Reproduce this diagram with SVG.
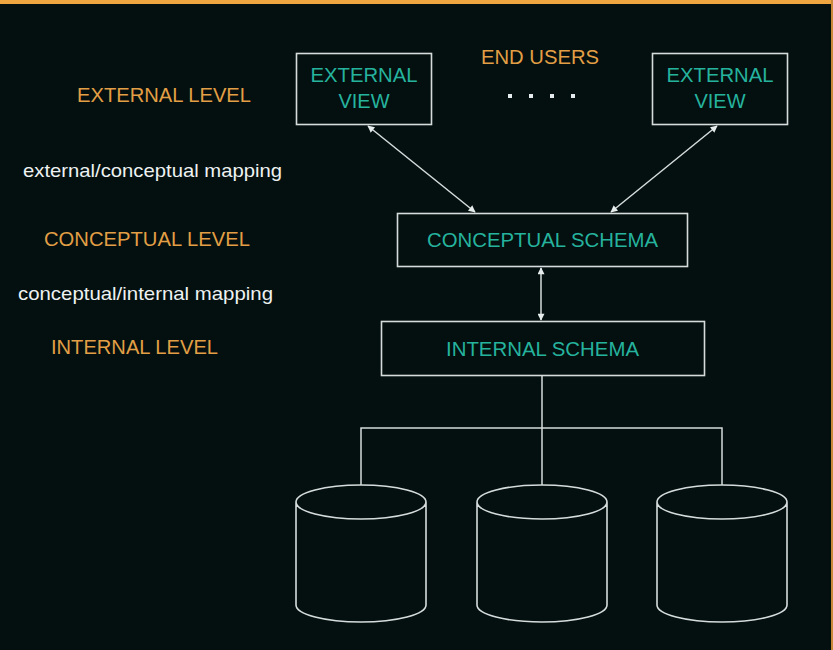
<svg xmlns="http://www.w3.org/2000/svg" width="833" height="650" viewBox="0 0 833 650">
<style>
.box{fill:none;stroke:#d6dcdc;stroke-width:1.6}
.lvl{font-family:"Liberation Sans",Arial,sans-serif;font-size:20px;fill:#e29f45}
.map{font-family:"Liberation Sans",Arial,sans-serif;font-size:19px;fill:#eef2f2}
.nt{font-family:"Liberation Sans",Arial,sans-serif;font-size:20px;fill:#26b39e}
.mid{text-anchor:middle}
.conn{fill:none;stroke:#d6dcdc;stroke-width:1.5}
.cyl{fill:none;stroke:#d6dcdc;stroke-width:1.6}
</style>
<defs>
<marker id="ah" viewBox="0 0 10 10" refX="9" refY="5" markerWidth="8" markerHeight="7" orient="auto-start-reverse" markerUnits="userSpaceOnUse">
<path d="M0,0 L10,5 L0,10 z" fill="#e6ecec"/>
</marker>
</defs>
<rect x="0" y="0" width="833" height="650" fill="#03100f"/>
<rect x="0" y="0" width="833" height="4" fill="#f0a640"/>
<rect x="831" y="0" width="2" height="650" fill="#c88a38"/>

<g id="labels">
<text class="lvl" x="77" y="102" textLength="174" lengthAdjust="spacingAndGlyphs">EXTERNAL LEVEL</text>
<text class="map" x="23" y="177" textLength="259" lengthAdjust="spacingAndGlyphs">external/conceptual mapping</text>
<text class="lvl" x="44" y="246" textLength="206" lengthAdjust="spacingAndGlyphs">CONCEPTUAL LEVEL</text>
<text class="map" x="18" y="300" textLength="255" lengthAdjust="spacingAndGlyphs">conceptual/internal mapping</text>
<text class="lvl" x="51" y="354" textLength="167" lengthAdjust="spacingAndGlyphs">INTERNAL LEVEL</text>
<text class="lvl" x="481" y="64" textLength="118" lengthAdjust="spacingAndGlyphs">END USERS</text>
<g fill="#e6ecec">
<rect x="508" y="94" width="4" height="4"/>
<rect x="529" y="94" width="4" height="4"/>
<rect x="550" y="94" width="4" height="4"/>
<rect x="571" y="94" width="4" height="4"/>
</g>
</g>

<g id="ext-view-1">
<rect class="box" x="296.5" y="53.5" width="135" height="71"/>
<text class="nt" x="310.5" y="82" textLength="107" lengthAdjust="spacingAndGlyphs">EXTERNAL</text>
<text class="nt mid" x="364" y="108">VIEW</text>
</g>
<g id="ext-view-2">
<rect class="box" x="652.5" y="53.5" width="135" height="71"/>
<text class="nt" x="666.5" y="82" textLength="107" lengthAdjust="spacingAndGlyphs">EXTERNAL</text>
<text class="nt mid" x="720" y="108">VIEW</text>
</g>
<g id="conceptual-schema">
<rect class="box" x="397.5" y="213.5" width="290" height="53"/>
<text class="nt" x="427" y="247" textLength="231" lengthAdjust="spacingAndGlyphs">CONCEPTUAL SCHEMA</text>
</g>
<g id="internal-schema">
<rect class="box" x="381.5" y="321.5" width="323" height="54"/>
<text class="nt" x="446" y="356" textLength="193" lengthAdjust="spacingAndGlyphs">INTERNAL SCHEMA</text>
</g>
<g id="db-1">
<path class="cyl" d="M296,502 A65,17 0 0 1 426,502 A65,17 0 0 1 296,502 Z M296,502 L296,605 A65,17 0 0 0 426,605 L426,502"/>
</g>
<g id="db-2">
<path class="cyl" d="M477,502 A65,17 0 0 1 607,502 A65,17 0 0 1 477,502 Z M477,502 L477,605 A65,17 0 0 0 607,605 L607,502"/>
</g>
<g id="db-3">
<path class="cyl" d="M657,502 A65,17 0 0 1 787,502 A65,17 0 0 1 657,502 Z M657,502 L657,605 A65,17 0 0 0 787,605 L787,502"/>
</g>

<g id="connectors">
<line class="conn" x1="368" y1="126" x2="475" y2="212" marker-start="url(#ah)" marker-end="url(#ah)"/>
<line class="conn" x1="717" y1="126" x2="611" y2="212" marker-start="url(#ah)" marker-end="url(#ah)"/>
<line class="conn" x1="541" y1="268" x2="541" y2="320" marker-start="url(#ah)" marker-end="url(#ah)"/>
<line class="conn" x1="542" y1="376" x2="542" y2="485"/>
<polyline class="conn" points="361,485 361,428 722,428 722,485"/>
</g>
</svg>
